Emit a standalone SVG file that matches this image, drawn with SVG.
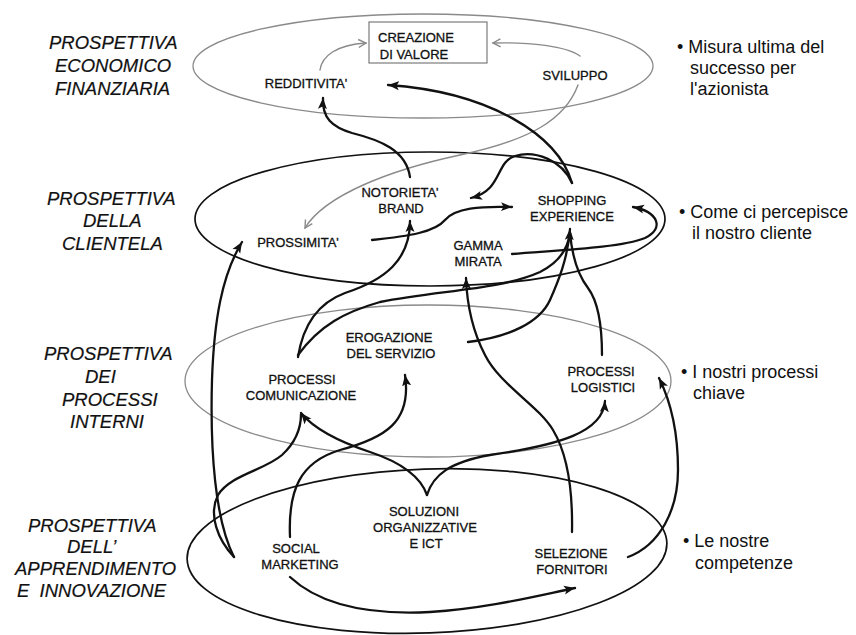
<svg xmlns="http://www.w3.org/2000/svg" width="856" height="635" viewBox="0 0 856 635">
  <style>
    .persp { font-family: "Liberation Sans", Arial, sans-serif; font-style: italic; font-size: 18.5px; fill: #111; stroke: #111; stroke-width: 0.2; }
    .note { font-family: "Liberation Sans", Arial, sans-serif; font-size: 18px; fill: #111; }
    .node { font-family: "Liberation Sans", Arial, sans-serif; font-size: 13px; fill: #111; stroke: #111; stroke-width: 0.3; text-anchor: middle; }
    .ring-gray { fill: none; stroke: #8a8a8a; stroke-width: 1.3; }
    .ring-black { fill: none; stroke: #111; stroke-width: 1.7; }
    .link { fill: none; stroke: #111; stroke-width: 2.3; stroke-linecap: round; }
    .link-gray { fill: none; stroke: #8a8a8a; stroke-width: 1.4; stroke-linecap: round; }
  </style>
  <defs>
    <marker id="arrow" markerUnits="userSpaceOnUse" markerWidth="12" markerHeight="10" refX="11" refY="5" orient="auto">
      <path d="M0,0.5 L11,5 L0,9.5 L2.5,5 Z" fill="#111"/>
    </marker>
    <marker id="arrow-gray" markerUnits="userSpaceOnUse" markerWidth="10" markerHeight="10" refX="8.5" refY="5" orient="auto">
      <path d="M1,1 L8.5,5 L1,9" fill="none" stroke="#8a8a8a" stroke-width="1.4"/>
    </marker>
  </defs>

  <rect width="856" height="635" fill="#fff"/>

  <!-- perspective rings -->
  <g id="rings">
    <ellipse class="ring-gray" cx="423" cy="66" rx="230" ry="52"/>
    <ellipse class="ring-black" cx="430" cy="219" rx="235" ry="67"/>
    <ellipse class="ring-gray" cx="428" cy="381" rx="243" ry="76"/>
    <ellipse class="ring-black" cx="427" cy="551" rx="240" ry="82" transform="rotate(-2 427 551)"/>
  </g>

  <!-- perspective titles (left) -->
  <g id="titles">
    <text class="persp" x="49" y="49">PROSPETTIVA</text>
    <text class="persp" x="55" y="72">ECONOMICO</text>
    <text class="persp" x="55" y="95">FINANZIARIA</text>

    <text class="persp" x="47" y="205">PROSPETTIVA</text>
    <text class="persp" x="83" y="227">DELLA</text>
    <text class="persp" x="62" y="250">CLIENTELA</text>

    <text class="persp" x="44" y="360">PROSPETTIVA</text>
    <text class="persp" x="85" y="383">DEI</text>
    <text class="persp" x="62" y="406">PROCESSI</text>
    <text class="persp" x="70" y="428">INTERNI</text>

    <text class="persp" x="28" y="532">PROSPETTIVA</text>
    <text class="persp" x="67" y="553">DELL’</text>
    <text class="persp" x="15" y="575">APPRENDIMENTO</text>
    <text class="persp" x="17" y="597" xml:space="preserve">E  INNOVAZIONE</text>
  </g>

  <!-- notes (right) -->
  <g id="notes">
    <text class="note" x="677" y="53">• Misura ultima del</text>
    <text class="note" x="690" y="74">successo per</text>
    <text class="note" x="690" y="95">l'azionista</text>

    <text class="note" x="679" y="218">• Come ci percepisce</text>
    <text class="note" x="692" y="239">il nostro cliente</text>

    <text class="note" x="681" y="378">• I nostri processi</text>
    <text class="note" x="693" y="399">chiave</text>

    <text class="note" x="683" y="547">• Le nostre</text>
    <text class="note" x="695" y="569">competenze</text>
  </g>

  <!-- connectors -->
  <g id="connectors">
    <path class="link-gray" marker-end="url(#arrow-gray)" d="M320,70 C322,56 336,45 366,43"/>
    <path class="link-gray" marker-end="url(#arrow-gray)" d="M580,56 C566,46 530,42 493,43"/>
    <path class="link-gray" marker-end="url(#arrow-gray)" d="M578,85 C565,120 530,140 460,155 C390,170 325,195 305,228"/>

    <path class="link" marker-end="url(#arrow)" d="M410,177 C406,150 380,140 352,133 C332,127 322,118 323,98"/>
    <path class="link" marker-end="url(#arrow)" d="M572,183 C558,135 490,92 388,85"/>
    <path class="link" marker-end="url(#arrow)" d="M572,183 C562,160 535,150 515,156 C495,162 503,190 471,198"/>
    <path class="link" marker-end="url(#arrow)" d="M372,240 C410,236 435,232 445,220 C455,208 480,206 512,207"/>
    <path class="link" marker-end="url(#arrow)" d="M512,254 C560,250 620,248 645,238 C665,228 658,212 633,207"/>

    <path class="link" marker-end="url(#arrow)" d="M298,357 C303,325 318,303 345,293 C385,280 410,260 410,221"/>
    <path class="link" d="M298,355 C320,325 345,312 380,302 C440,290 500,290 540,272 C560,262 568,248 570,233"/>
    <path class="link" marker-end="url(#arrow)" d="M468,342 C510,337 540,322 550,300 C558,282 568,258 570,229"/>
    <path class="link" d="M602,355 C602,320 597,300 588,288 C578,275 572,255 570,233"/>

    <path class="link" marker-end="url(#arrow)" d="M572,532 C573,480 565,450 553,430 C538,405 500,385 485,355 C472,330 467,305 466,278"/>
    <path class="link" marker-end="url(#arrow)" d="M427,495 C420,475 400,462 370,452 C340,442 315,430 301,413"/>
    <path class="link" marker-end="url(#arrow)" d="M427,495 C433,475 450,462 490,455 C560,445 603,432 605,401"/>
    <path class="link" marker-end="url(#arrow)" d="M290,537 C288,490 300,462 340,450 C385,438 412,422 405,375"/>
    <path class="link" marker-end="url(#arrow)" d="M234,557 C215,520 210,450 212,380 C214,320 222,275 242,242"/>
    <path class="link" d="M234,557 C218,540 208,515 218,495 C230,475 265,470 282,455 C295,443 301,430 301,414"/>
    <path class="link" marker-end="url(#arrow)" d="M290,577 C320,605 370,615 430,612 C490,608 540,595 575,588"/>
    <path class="link" marker-end="url(#arrow)" d="M628,557 C660,545 678,510 678,470 C678,430 670,400 659,378"/>
  </g>

  <!-- economic-financial nodes -->
  <g id="creazione-valore">
    <rect x="369" y="22" width="118" height="41" fill="#fff" stroke="#6f6f6f" stroke-width="1.1"/>
    <text class="node" x="416" y="42" font-size="12.5">CREAZIONE</text>
    <text class="node" x="414" y="59" font-size="12.5">DI VALORE</text>
  </g>
  <g id="redditivita"><text class="node" x="306" y="88">REDDITIVITA'</text></g>
  <g id="sviluppo"><text class="node" x="575" y="80">SVILUPPO</text></g>

  <!-- customer nodes -->
  <g id="notorieta-brand">
    <text class="node" x="400" y="197">NOTORIETA'</text>
    <text class="node" x="401" y="213">BRAND</text>
  </g>
  <g id="shopping-experience">
    <text class="node" x="572" y="205">SHOPPING</text>
    <text class="node" x="572" y="221">EXPERIENCE</text>
  </g>
  <g id="prossimita"><text class="node" x="298" y="247">PROSSIMITA'</text></g>
  <g id="gamma-mirata">
    <text class="node" x="478" y="250">GAMMA</text>
    <text class="node" x="478" y="266">MIRATA</text>
  </g>

  <!-- internal process nodes -->
  <g id="erogazione-servizio">
    <text class="node" x="389" y="342">EROGAZIONE</text>
    <text class="node" x="391" y="358">DEL SERVIZIO</text>
  </g>
  <g id="processi-comunicazione">
    <text class="node" x="302" y="384">PROCESSI</text>
    <text class="node" x="301" y="400">COMUNICAZIONE</text>
  </g>
  <g id="processi-logistici">
    <text class="node" x="601" y="376">PROCESSI</text>
    <text class="node" x="603" y="392">LOGISTICI</text>
  </g>

  <!-- learning and innovation nodes -->
  <g id="soluzioni-ict">
    <text class="node" x="424" y="516">SOLUZIONI</text>
    <text class="node" x="425" y="532">ORGANIZZATIVE</text>
    <text class="node" x="426" y="548">E ICT</text>
  </g>
  <g id="social-marketing">
    <text class="node" x="296" y="553">SOCIAL</text>
    <text class="node" x="300" y="569">MARKETING</text>
  </g>
  <g id="selezione-fornitori">
    <text class="node" x="571" y="558">SELEZIONE</text>
    <text class="node" x="572" y="574">FORNITORI</text>
  </g>
</svg>
